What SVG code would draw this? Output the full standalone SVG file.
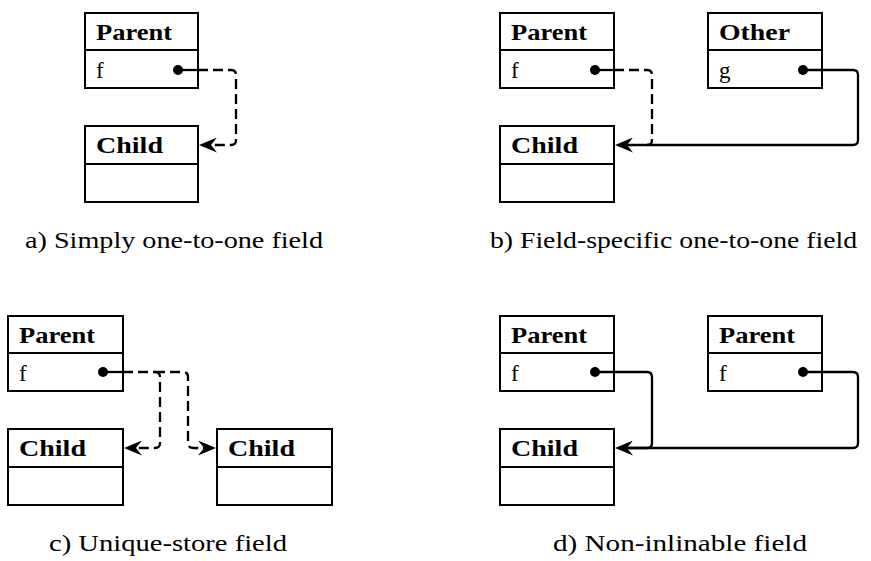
<svg xmlns="http://www.w3.org/2000/svg" width="871" height="561" viewBox="0 0 871 561">
  <style>
    .box { fill: #fff; stroke: #000; stroke-width: 2; }
    .sep { stroke: #000; stroke-width: 2; }
    .title { font-family: "Liberation Serif", "DejaVu Serif", serif; font-weight: bold; font-size: 23.5px; fill: #000; }
    .field { font-family: "Liberation Serif", "DejaVu Serif", serif; font-size: 23px; fill: #000; }
    .caption { font-family: "Liberation Serif", "DejaVu Serif", serif; font-size: 23px; fill: #000; }
    .ref { fill: none; stroke: #000; stroke-width: 2.3; }
    .dash { stroke-dasharray: 10 5; }
    .dot { fill: #000; }
  </style>
  <defs>
    <marker id="arrow" markerUnits="userSpaceOnUse" markerWidth="18" markerHeight="15" viewBox="0 0 18 15" refX="6" refY="7.5" orient="auto">
      <path d="M0,0 L18,7.5 L0,15 L6,7.5 Z" fill="#000"/>
    </marker>
  </defs>

  <!-- a) simple one-to-one field -->
  <g id="a-parent">
    <rect class="box" x="85" y="13" width="113" height="75"/>
    <line class="sep" x1="85" y1="50" x2="198" y2="50"/>
    <text class="title" x="96" y="40" textLength="76" lengthAdjust="spacingAndGlyphs">Parent</text>
    <text class="field" x="96" y="78">f</text>
  </g>
  <g id="a-child">
    <rect class="box" x="85" y="126" width="113" height="76"/>
    <line class="sep" x1="85" y1="164" x2="198" y2="164"/>
    <text class="title" x="96" y="153" textLength="67" lengthAdjust="spacingAndGlyphs">Child</text>
  </g>

  <!-- b) field-specific one-to-one field -->
  <g id="b-parent">
    <rect class="box" x="500" y="13" width="114" height="75"/>
    <line class="sep" x1="500" y1="50" x2="614" y2="50"/>
    <text class="title" x="511" y="40" textLength="76" lengthAdjust="spacingAndGlyphs">Parent</text>
    <text class="field" x="511" y="78">f</text>
  </g>
  <g id="b-other">
    <rect class="box" x="708" y="13" width="114" height="75"/>
    <line class="sep" x1="708" y1="50" x2="822" y2="50"/>
    <text class="title" x="719" y="40" textLength="71" lengthAdjust="spacingAndGlyphs">Other</text>
    <text class="field" x="719" y="78">g</text>
  </g>
  <g id="b-child">
    <rect class="box" x="500" y="126" width="114" height="76"/>
    <line class="sep" x1="500" y1="164" x2="614" y2="164"/>
    <text class="title" x="511" y="153" textLength="67" lengthAdjust="spacingAndGlyphs">Child</text>
  </g>

  <!-- c) unique-store field -->
  <g id="c-parent">
    <rect class="box" x="8" y="316" width="115" height="75"/>
    <line class="sep" x1="8" y1="353" x2="123" y2="353"/>
    <text class="title" x="19" y="343" textLength="76" lengthAdjust="spacingAndGlyphs">Parent</text>
    <text class="field" x="19" y="381">f</text>
  </g>
  <g id="c-child-left">
    <rect class="box" x="8" y="429" width="115" height="76"/>
    <line class="sep" x1="8" y1="467" x2="123" y2="467"/>
    <text class="title" x="19" y="456" textLength="67" lengthAdjust="spacingAndGlyphs">Child</text>
  </g>
  <g id="c-child-right">
    <rect class="box" x="217" y="429" width="115" height="76"/>
    <line class="sep" x1="217" y1="467" x2="332" y2="467"/>
    <text class="title" x="228" y="456" textLength="67" lengthAdjust="spacingAndGlyphs">Child</text>
  </g>

  <!-- d) non-inlinable field -->
  <g id="d-parent-left">
    <rect class="box" x="500" y="316" width="114" height="75"/>
    <line class="sep" x1="500" y1="353" x2="614" y2="353"/>
    <text class="title" x="511" y="343" textLength="76" lengthAdjust="spacingAndGlyphs">Parent</text>
    <text class="field" x="511" y="381">f</text>
  </g>
  <g id="d-parent-right">
    <rect class="box" x="708" y="316" width="114" height="75"/>
    <line class="sep" x1="708" y1="353" x2="822" y2="353"/>
    <text class="title" x="719" y="343" textLength="76" lengthAdjust="spacingAndGlyphs">Parent</text>
    <text class="field" x="719" y="381">f</text>
  </g>
  <g id="d-child">
    <rect class="box" x="500" y="429" width="114" height="76"/>
    <line class="sep" x1="500" y1="467" x2="614" y2="467"/>
    <text class="title" x="511" y="456" textLength="67" lengthAdjust="spacingAndGlyphs">Child</text>
  </g>

  <!-- references: dot marks the field, arrow points at the target object -->
  <g id="connectors">
    <!-- a -->
    <circle class="dot" cx="178" cy="70" r="5"/>
    <line class="ref" x1="178" y1="70" x2="198" y2="70"/>
    <path class="ref dash" d="M198,70 H231 Q236,70 236,75 V140 Q236,145 231,145 H211" marker-end="url(#arrow)"/>

    <!-- b -->
    <circle class="dot" cx="595" cy="70" r="5"/>
    <line class="ref" x1="595" y1="70" x2="614" y2="70"/>
    <path class="ref dash" d="M614,70 H647 Q652,70 652,75 V140 Q652,145 647,145"/>
    <circle class="dot" cx="803" cy="70" r="5"/>
    <path class="ref" d="M803,70 H853 Q858,70 858,75 V140 Q858,145 853,145 H627" marker-end="url(#arrow)"/>

    <!-- c -->
    <circle class="dot" cx="103" cy="372" r="5"/>
    <line class="ref" x1="103" y1="372" x2="123" y2="372"/>
    <path class="ref dash" d="M123,372 H155 Q160,372 160,377 V443 Q160,448 155,448 H136" marker-end="url(#arrow)"/>
    <path class="ref dash" d="M155,372 H183 Q188,372 188,377 V443 Q188,448 193,448 H204" marker-end="url(#arrow)"/>

    <!-- d -->
    <circle class="dot" cx="595" cy="372" r="5"/>
    <path class="ref" d="M595,372 H647 Q652,372 652,377 V443 Q652,448 647,448 H627"/>
    <circle class="dot" cx="803" cy="372" r="5"/>
    <path class="ref" d="M803,372 H853 Q858,372 858,377 V443 Q858,448 853,448 H627" marker-end="url(#arrow)"/>
  </g>

  <!-- captions -->
  <text class="caption" x="25" y="248" textLength="298" lengthAdjust="spacingAndGlyphs">a) Simply one-to-one field</text>
  <text class="caption" x="490" y="248" textLength="367" lengthAdjust="spacingAndGlyphs">b) Field-specific one-to-one field</text>
  <text class="caption" x="49" y="551" textLength="238" lengthAdjust="spacingAndGlyphs">c) Unique-store field</text>
  <text class="caption" x="553" y="551" textLength="254" lengthAdjust="spacingAndGlyphs">d) Non-inlinable field</text>
</svg>
